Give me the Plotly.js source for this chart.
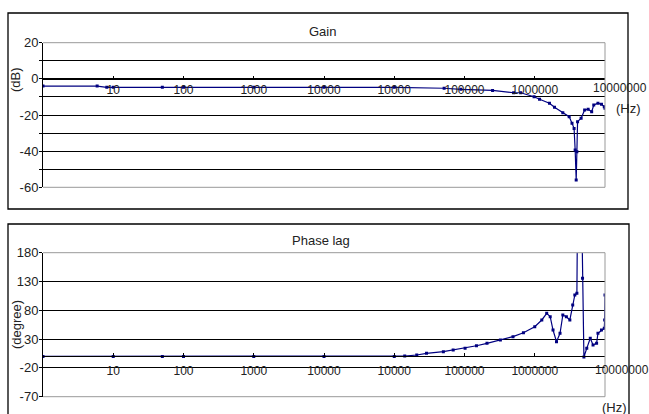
<!DOCTYPE html>
<html><head><meta charset="utf-8">
<script src="https://cdn.plot.ly/plotly-3.0.1.min.js"></script>
<style>html,body{margin:0;padding:0;background:#fff}#chart{width:649px;height:414px}</style>
</head><body><div id="chart"></div>
<script>
// X tick positions and their printed labels (as printed in the original)
const tickVals = [10, 100, 1000, 10000, 100000, 1000000, 10000000, 100000000];
const tickText = ["10", "100", "1000", "10000", "10000", "100000", "1000000", ""];
const lastTickLabel = "10000000";

// Gain panel
const gainFreq = [1, 5.9, 8.1, 10, 50, 100, 1000, 10000, 100000, 5.13e5, 8.9e5, 2.51e6, 5.01e6, 6.31e6, 9.77e6, 1.17e7, 1.62e7, 1.91e7, 2.51e7, 3.09e7, 3.39e7, 3.63e7, 3.76e7, 3.89e7, 3.98e7, 4.07e7, 4.57e7, 5.13e7, 5.75e7, 6.46e7, 6.92e7, 7.94e7, 8.91e7, 9.77e7, 1e8];
const gainDb = [-4.0, -4.0, -4.7, -4.7, -4.7, -4.7, -4.7, -4.7, -4.7, -5.2, -5.8, -6.4, -7.7, -7.7, -9.9, -11.3, -13.5, -15.7, -18.7, -20.9, -24.6, -27.4, -39.4, -56.0, -40.3, -23.7, -21.8, -17.2, -16.8, -18.2, -14.5, -13.5, -14.1, -15.4, -16.3];
const gainTicks = [20, 10, 0, -10, -20, -30, -40, -50, -60];
const gainTickText = ["20", "", "0", "", "-20", "", "-40", "", "-60"];

// Phase panel
const phaseFreq = [1, 10, 50, 100, 1000, 10000, 100000, 1.41e5, 2.09e5, 2.88e5, 5.0e5, 6.9e5, 1.02e6, 1.48e6, 2.09e6, 3.24e6, 4.9e6, 6.9e6, 1.0e7, 1.26e7, 1.48e7, 1.66e7, 1.82e7, 2.04e7, 2.29e7, 2.51e7, 2.82e7, 3.16e7, 3.47e7, 3.72e7, 3.98e7, 4.07e7, 4.65e7, 4.79e7, 5.01e7, 5.5e7, 6.17e7, 6.76e7, 7.59e7, 7.94e7, 8.91e7, 9.77e7, 9.89e7, 1e8];
const phaseDeg = [0, 0, 0, 0, 0, 0, 0, 0.5, 2.4, 5.3, 8.1, 11.1, 14.0, 18.5, 22.7, 28.4, 34.2, 41.1, 51.5, 63.2, 74.8, 68.9, 45.8, 25.5, 40.1, 71.8, 68.9, 63.2, 89.2, 106.6, 109.5, 260, 260, 135.6, -1, 14.0, 31.4, 19.8, 22.7, 40.1, 45.8, 48.7, 63.2, 106.6];
const phaseTicks = [180, 130, 80, 30, -20, -70];

const W = 649, H = 414;
const px = v => v / W, py = v => 1 - v / H;
const font = "Arial, 'Liberation Sans', sans-serif";
const lineColor = "#000080";
const xDom = [px(43), px(605)];

const xCommon = {
  type: "log", range: [0, 8], domain: xDom, anchor: "free",
  tickmode: "array", tickvals: tickVals, ticktext: tickText,
  ticks: "inside", ticklen: 3, tickcolor: "#000",
  showline: true, linecolor: "#000", linewidth: 1,
  showgrid: false, zeroline: false, automargin: false,
  tickfont: {family: font, size: 12, color: "#222"}
};
const yCommon = {
  tickmode: "array", ticks: "outside", ticklen: 3, tickcolor: "#000",
  ticklabelstandoff: -2,
  showline: true, linecolor: "#000", linewidth: 1,
  showgrid: true, gridcolor: "#000", gridwidth: 1, zeroline: false, automargin: false,
  tickfont: {family: font, size: 13, color: "#222"}
};

const gainZeroPy = 42.7 + 20 * (144.6 / 80);
const phaseZeroPy = 252.7 + 180 * (144 / 250);

const data = [
  {x: gainFreq, y: gainDb, xaxis: "x", yaxis: "y", mode: "lines+markers",
   line: {color: lineColor, width: 1.2}, marker: {symbol: "square", size: 3, color: lineColor}, showlegend: false},
  {x: phaseFreq, y: phaseDeg, xaxis: "x2", yaxis: "y2", mode: "lines+markers",
   line: {color: lineColor, width: 1.2}, marker: {symbol: "square", size: 3, color: lineColor}, showlegend: false}
];

function ann(text, x, y, size, angle) {
  return {text: text, xref: "paper", yref: "paper", x: px(x), y: py(y), xanchor: "center", yanchor: "middle",
    textangle: angle || 0, showarrow: false, font: {family: font, size: size, color: "#222"}};
}

const layout = {
  width: W, height: H, margin: {l: 0, r: 0, t: 0, b: 0},
  paper_bgcolor: "#fff", plot_bgcolor: "#fff", showlegend: false,
  xaxis: Object.assign({}, xCommon, {position: py(gainZeroPy)}),
  yaxis: Object.assign({}, yCommon, {range: [-60, 20], domain: [py(187.3), py(42.7)], anchor: "x",
    tickvals: gainTicks, ticktext: gainTickText}),
  xaxis2: Object.assign({}, xCommon, {position: py(phaseZeroPy), ticklabelstandoff: 3}),
  yaxis2: Object.assign({}, yCommon, {range: [-70, 180], domain: [py(396.7), py(252.7)], anchor: "x2",
    tickvals: phaseTicks, ticktext: phaseTicks.map(String)}),
  shapes: [
    {type: "rect", xref: "paper", yref: "paper", x0: px(8), x1: px(628), y0: py(209), y1: py(13), line: {color: "#000", width: 1.3}},
    {type: "rect", xref: "paper", yref: "paper", x0: px(8), x1: px(629), y0: -0.05, y1: py(224), line: {color: "#000", width: 1.3}},
    {type: "line", xref: "paper", yref: "paper", x0: xDom[0], x1: xDom[1], y0: py(42.7), y1: py(42.7), line: {color: "#999", width: 1}},
    {type: "line", xref: "paper", yref: "paper", x0: xDom[1], x1: xDom[1], y0: py(187.3), y1: py(42.7), line: {color: "#999", width: 1}},
    {type: "line", xref: "paper", yref: "paper", x0: xDom[0], x1: xDom[1], y0: py(187.3), y1: py(187.3), line: {color: "#999", width: 1}},
    {type: "line", xref: "paper", yref: "paper", x0: xDom[0], x1: xDom[1], y0: py(252.7), y1: py(252.7), line: {color: "#999", width: 1}},
    {type: "line", xref: "paper", yref: "paper", x0: xDom[1], x1: xDom[1], y0: py(396.7), y1: py(252.7), line: {color: "#999", width: 1}},
    {type: "line", xref: "paper", yref: "paper", x0: xDom[0], x1: xDom[1], y0: py(396.7), y1: py(396.7), line: {color: "#999", width: 1}}
  ],
  annotations: [
    ann("Gain", 322, 31, 13),
    ann("Phase lag", 321, 240, 13),
    ann("(dB)", 16, 80, 13, -90),
    ann("(degree)", 16, 325, 13, -90),
    ann("(Hz)", 628, 108, 13),
    ann("(Hz)", 614, 407, 13),
    ann(lastTickLabel, 620, 88, 12),
    ann(lastTickLabel, 622, 370, 12)
  ]
};

Plotly.newPlot("chart", data, layout, {staticPlot: true, displayModeBar: false});
</script></body></html>
